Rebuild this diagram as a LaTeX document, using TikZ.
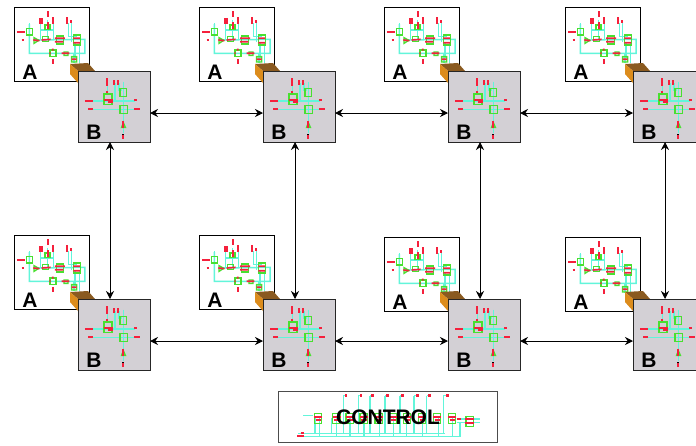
\documentclass[tikz,border=0pt]{standalone}
\usepackage{xcolor}
\usepackage{fontspec}
\setmainfont{Liberation Sans}
\usetikzlibrary{arrows.meta}

\definecolor{wirecyan}{HTML}{62F5DA}
\definecolor{partgreen}{HTML}{48E030}
\definecolor{pinred}{HTML}{F5203C}
\definecolor{boxgray}{HTML}{D3D0D5}
\definecolor{cubeside}{HTML}{DC8C1C}
\definecolor{cubetop}{HTML}{8A5A20}

\tikzset{
  wire/.style={wirecyan, line width=1.5pt},
  part/.style={partgreen, line width=1.4pt},
  pin/.style={pinred, line width=1.7pt},
  whitebox/.style={draw=black, fill=white, line width=1pt, inner sep=0pt, outer sep=0pt, anchor=north west},
  graybox/.style={draw=black!85, fill=boxgray, line width=1pt, inner sep=0pt, outer sep=0pt, anchor=north west, minimum width=72pt, minimum height=71pt},
  tag/.style={font=\bfseries\fontsize{21}{21}\selectfont, inner sep=0pt},
  link/.style={{Stealth[length=8pt,width=8pt]}-{Stealth[length=8pt,width=8pt]}, black, line width=0.9pt}
}

% circuit of a box A, in the coordinates of the first one (three times enlarged)
\newcommand{\circuitA}{
  \draw[wire] (88,72) -- (88,160) -- (255,160) -- (255,118) -- (105,120);
  \draw[wire] (122,70) -- (122,120) (143,60) -- (143,120) (160,70) -- (160,120) (122,90) -- (160,90);
  \draw[wire] (205,70) -- (205,110) -- (230,110) (215,70) -- (215,125) (190,118) -- (220,118);
  \draw[wire] (238,130) -- (238,190) (225,130) -- (225,175) (222,160) -- (222,190);
  \draw[part] (80,85) rectangle (98,105) (150,150) rectangle (168,170) (170,108) rectangle (190,132);
  \draw[part] (220,105) rectangle (242,135) (135,75) rectangle (150,88) (128,110) rectangle (145,125);
  \draw[part] (192,156) rectangle (204,166) (215,170) rectangle (230,186) (102,113) -- (102,130) -- (116,121) -- cycle;
  \draw[pin] (143,34) -- (143,52) (143,66) -- (143,86) (120,55) -- (120,72) (127,55) -- (127,72) (158,52) -- (158,72);
  \draw[pin] (201,52) -- (201,72) (212,60) -- (212,70) (52,95) -- (74,95) (65,120) -- (72,120) (158,178) -- (158,192);
  \draw[pin] (125,120) -- (152,118) (165,115) -- (195,115) (165,125) -- (190,125) (220,115) -- (240,115) (220,128) -- (240,128);
  \draw[pin] (158,146) -- (158,152) (148,160) -- (152,160) (185,160) -- (208,160) (215,178) -- (230,178) (100,120) -- (118,122);
  \draw[wire] (88,70) -- (88,76);
}

% circuit of a box B, in the coordinates of the first one
\newcommand{\circuitB}{
  \draw[wire] (278,303) -- (405,303) (278,328) -- (405,328) (370,245) -- (370,400);
  \draw[wire] (322,250) -- (322,285) (345,250) -- (345,300) (357,250) -- (357,270) -- (365,270);
  \draw[part] (312,282) rectangle (336,314) (360,265) rectangle (380,290) (360,316) rectangle (382,340);
  \draw[part] (365,382) -- (376,382) -- (370,368) -- cycle;
  \draw[pin] (322,235) -- (322,258) (343,240) -- (343,256) (355,240) -- (355,256) (322,272) -- (322,280);
  \draw[pin] (255,303) -- (280,303) (265,328) -- (278,328) (403,300) -- (411,300) (402,327) -- (420,327);
  \draw[pin] (312,300) -- (340,300) (325,306) -- (340,306) (370,362) -- (370,385) (370,406) -- (370,416);
  \fill[black] (367,401) rectangle (373,406);
}

\begin{document}
\begin{tikzpicture}[x=1pt,y=-1pt]
  \useasboundingbox (0,0) rectangle (696,445);
  \clip (0,0) rectangle (696,445);

  \foreach \i/\ax/\ay/\bx/\by in {1/14/7/78/71, 2/199/7/263/71, 3/384/7/448/71, 4/565/7/633/71,
                                  5/14/235/78/299, 6/199/235/263/299, 7/384/237/448/299, 8/565/237/633/299} {
    \node[whitebox, minimum width=75pt, minimum height=74pt] (a\i) at (\ax,\ay) {};
    \begin{scope}[shift={(\ax-14,\ay-7)}, scale=1/3]
      \circuitA
    \end{scope}
    \node[tag] (ta\i) at (\ax+16,\ay+65) {A};
    % the small cube between A and B
    \fill[cubetop] (\bx-8,\by-7) -- (\bx+10,\by-8) -- (\bx+17,\by) -- (\bx,\by) -- cycle;
    \fill[cubeside] (\bx-8,\by-7) -- (\bx,\by) -- (\bx,\by+12) -- (\bx-8,\by+3) -- cycle;
    \node[graybox] (b\i) at (\bx,\by) {};
    \begin{scope}[shift={(\bx-78,\by-71)}, scale=1/3]
      \circuitB
    \end{scope}
    \node[tag] (tb\i) at (\bx+16,\by+61) {B};
  }

  % links
  \foreach \p/\q in {1/2, 2/3, 3/4, 5/6, 6/7, 7/8}
    \draw[link] ([yshift=-6.5pt]b\p.east) -- ([yshift=-6.5pt]b\q.west);
  \foreach \p/\q in {1/5, 2/6, 3/7, 4/8}
    \draw[link] ([xshift=-4pt]b\p.south) -- ([xshift=-4pt]b\q.north);

  % control block
  \node[whitebox, draw=black!70, minimum width=219pt, minimum height=51pt] (ctrl) at (278,391) {};
  \begin{scope}[shift={(270,385)}, scale=1/3]
    \draw[wire] (85,145) -- (525,145) (85,155) -- (570,155) (100,92) -- (130,92) (560,102) -- (630,102) (560,112) -- (630,112);
    \draw[wire] (220,32) -- (228,32) (265,32) -- (273,32) (300,32) -- (308,32) (345,32) -- (353,32);
    \draw[wire] (390,32) -- (397,32) (432,32) -- (442,32) (470,32) -- (478,32) (520,32) -- (532,32);
    \foreach \x in {220,265,300,345,390,432,470,520}
      \draw[wire] (\x,32) -- (\x,145);
    \foreach \x in {148,200,240,282,328,370,410,458,505,548}
      \draw[wire] (\x,100) -- (\x,155);
    \draw[wire] (570,110) -- (570,155) (135,100) -- (135,145) (185,100) -- (185,145);
    \foreach \x in {133,188,228,270,315,358,400,445,490,535}
      \draw[part] (\x,85) rectangle (\x+22,115);
    \draw[part] (588,95) rectangle (610,125);
    \foreach \x in {228,273,308,353,397,442,478,532}
      \fill[pinred] (\x-4,28) rectangle (\x+4,36);
    \foreach \x in {133,188,228,270,315,358,400,445,490,535}
      \draw[pin] (\x,97) -- (\x+24,97) (\x+4,106) -- (\x+20,106);
    \draw[pin] (560,102) -- (574,102) (584,102) -- (612,102) (584,114) -- (612,114) (82,153) -- (102,153) (92,143) -- (102,143);
  \end{scope}
  \node[font=\bfseries\fontsize{21}{21}\selectfont, inner sep=0pt] (tctrl) at (388,417) {CONTROL};
\end{tikzpicture}
\end{document}
